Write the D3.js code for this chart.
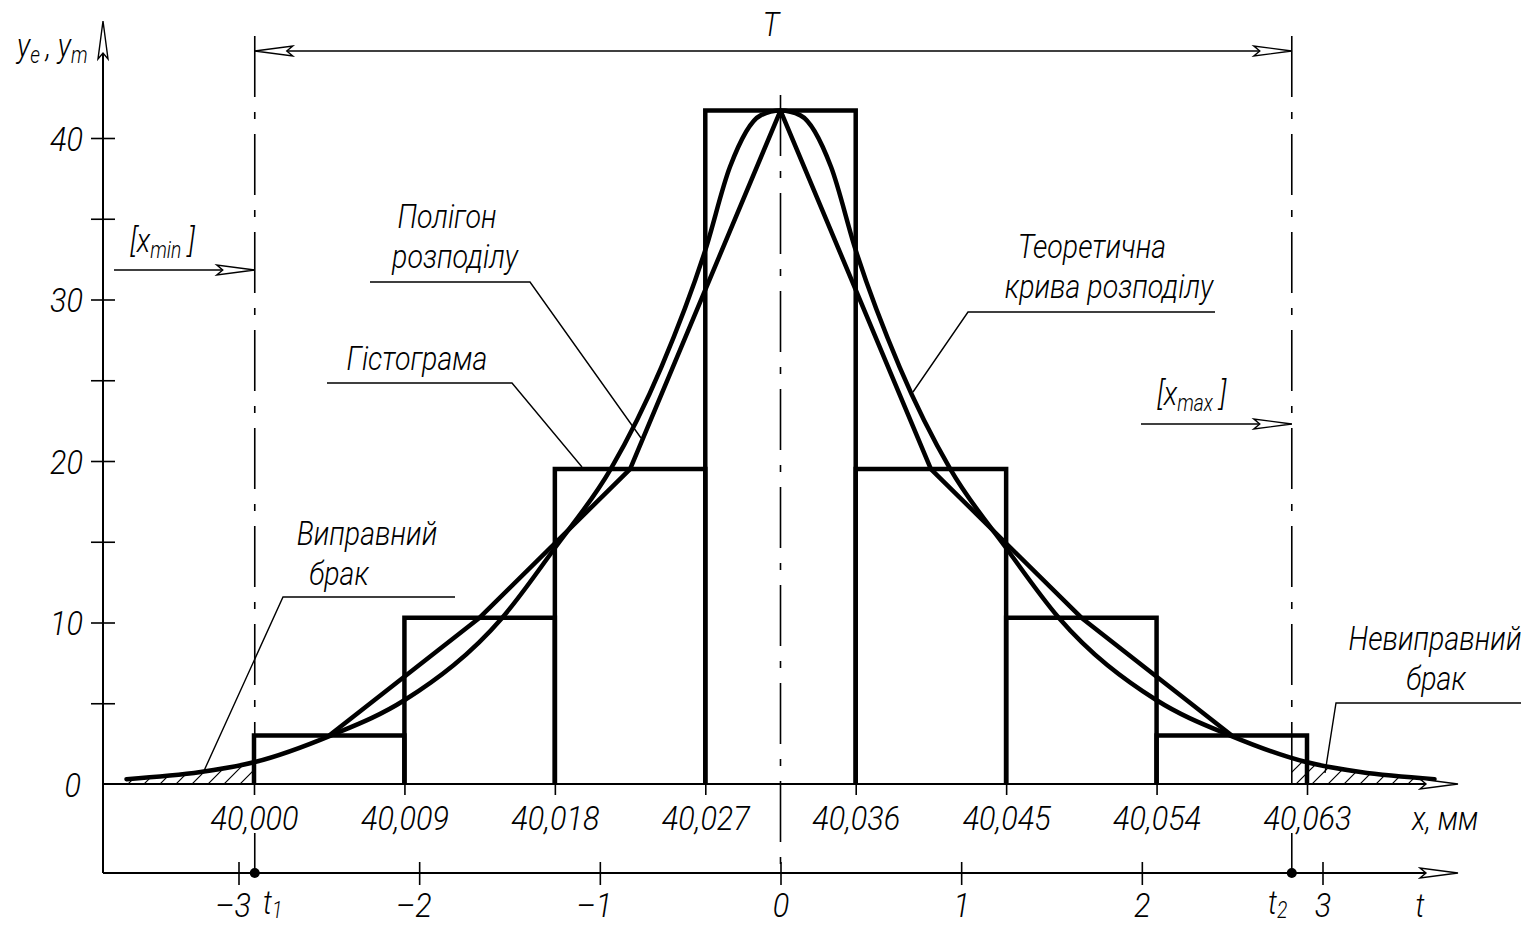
<!DOCTYPE html>
<html>
<head>
<meta charset="utf-8">
<script src="https://cdn.jsdelivr.net/npm/d3@7"></script>
<style>
    body { margin: 0; background: #fff; }
    svg { display: block; }
    text { font-family: Roboto, "Liberation Sans", sans-serif; font-style: italic; font-weight: 300; fill: #000; }
</style>
</head>
<body>
<svg id="chart" width="1521" height="926"></svg>
<script>
// histogram bins (mm) and empirical frequencies
const binEdges = [40.000, 40.009, 40.018, 40.027, 40.036, 40.045, 40.054, 40.063];
const frequencies = [3.0, 10.3, 19.5, 41.7, 19.5, 10.3, 3.0];

// theoretical curve in t units
const curveT = [-3.62, -3.21, -2.91, -2.49, -2.08, -1.54, -1.25, -0.94, -0.66, -0.415, -0.28, -0.11, 0,
    0.11, 0.28, 0.415, 0.66, 0.94, 1.25, 1.54, 2.08, 2.49, 2.91, 3.21, 3.62];
const curveY = [0.3, 0.74, 1.36, 3.0, 5.2, 10.3, 14.6, 19.5, 25.8, 33.1, 38.2, 41.4, 41.7,
    41.4, 38.2, 33.1, 25.8, 19.5, 14.6, 10.3, 5.2, 3.0, 1.36, 0.74, 0.3];

const yTicks = [0, 5, 10, 15, 20, 25, 30, 35, 40];
const yLabeled = [0, 10, 20, 30, 40];
const tTicks = [-3, -2, -1, 0, 1, 2, 3];
const tLimits = [-2.91, 2.83];

const svg = d3.select("#chart");

const xMm = d3.scaleLinear().domain([40.000, 40.063]).range([254, 1307]);
const tScale = d3.scaleLinear().domain([-3, 3]).range([238.5, 1322.5]);
const y = d3.scaleLinear().domain([0, 40]).range([784, 138]);

const axisX0 = 103;
const tAxisY = 873;
const thick = 4.5;
const thin = 1.6;
const sx = 0.84;      // narrow lettering like the drawing font
const sxTick = 0.9;
const fontSize = 34;

// hatch pattern for the reject zones
const defs = svg.append("defs");
defs.append("pattern")
    .attr("id", "hatch")
    .attr("patternUnits", "userSpaceOnUse")
    .attr("width", 16).attr("height", 16)
    .append("path")
    .attr("d", "M-4,4 L4,-4 M0,16 L16,0 M12,20 L20,12")
    .attr("stroke", "#000").attr("stroke-width", 1.2);

const curvePts = curveT.map((t, i) => [t, curveY[i]]);

const zones = [[curveT[0], tLimits[0]], [tLimits[1], curveT[curveT.length - 1]]];
zones.forEach((z, i) => {
    defs.append("clipPath").attr("id", "zone" + i)
        .append("rect")
        .attr("x", tScale(z[0])).attr("y", 0)
        .attr("width", tScale(z[1]) - tScale(z[0])).attr("height", 926);
    svg.append("path")
        .datum(curvePts)
        .attr("clip-path", `url(#zone${i})`)
        .attr("fill", "url(#hatch)")
        .attr("d", d3.area()
            .x(d => tScale(d[0]))
            .y0(y(0))
            .y1(d => y(d[1]))
            .curve(d3.curveMonotoneX));
});

// open drawing-style arrowhead
function arrowHead(x, yy, angle) {
    svg.append("path")
        .attr("d", "M0,0 L-38,-5 L-32,0 L-38,5 Z")
        .attr("transform", `translate(${x},${yy}) rotate(${angle})`)
        .attr("fill", "#fff")
        .attr("stroke", "#000")
        .attr("stroke-width", 1.4);
}

// dash-dot limit lines (broken around the mm labels) and centre line
const dashDot = "61,15,7,15";
[tScale(tLimits[0]), tScale(tLimits[1])].forEach(x => {
    svg.append("line")
        .attr("x1", x).attr("x2", x).attr("y1", 36).attr("y2", y(0))
        .attr("stroke", "#000").attr("stroke-width", thin)
        .attr("stroke-dasharray", dashDot);
    svg.append("line")
        .attr("x1", x).attr("x2", x).attr("y1", 833).attr("y2", tAxisY)
        .attr("stroke", "#000").attr("stroke-width", thin);
});
svg.append("line")
    .attr("x1", tScale(0)).attr("x2", tScale(0)).attr("y1", 95).attr("y2", tAxisY)
    .attr("stroke", "#000").attr("stroke-width", thin)
    .attr("stroke-dasharray", dashDot);

// axes lines
svg.append("line")
    .attr("x1", axisX0).attr("x2", axisX0).attr("y1", 24).attr("y2", tAxisY)
    .attr("stroke", "#000").attr("stroke-width", 2);
svg.append("line")
    .attr("x1", axisX0).attr("x2", 1455).attr("y1", y(0)).attr("y2", y(0))
    .attr("stroke", "#000").attr("stroke-width", 2);
svg.append("line")
    .attr("x1", axisX0).attr("x2", 1455).attr("y1", tAxisY).attr("y2", tAxisY)
    .attr("stroke", "#000").attr("stroke-width", 2);

// y axis ticks
const yAxis = svg.append("g")
    .attr("transform", `translate(${axisX0},0)`)
    .call(d3.axisLeft(y).tickValues(yTicks).tickSize(12)
        .tickFormat(d => yLabeled.includes(d) ? d : ""));
yAxis.select(".domain").remove();
yAxis.selectAll(".tick line").attr("x1", 12).attr("stroke-width", 1.6)
    .style("display", d => d === 0 ? "none" : null);
yAxis.selectAll(".tick text").attr("x", d => (d === 0 ? -22 : -20) / sxTick).attr("dy", "0.36em");

// x axis (mm)
const xAxis = svg.append("g")
    .attr("transform", `translate(0,${y(0)})`)
    .call(d3.axisBottom(xMm).tickValues(binEdges).tickSize(11)
        .tickFormat(d => d.toFixed(3).replace(".", ",")));
xAxis.select(".domain").remove();
xAxis.selectAll(".tick line").attr("stroke-width", 1.6);
xAxis.selectAll(".tick text").attr("y", 0).attr("dy", 46);

// t axis
const tAxis = svg.append("g")
    .attr("transform", `translate(0,${tAxisY})`)
    .call(d3.axisBottom(tScale).tickValues(tTicks).tickSize(12)
        .tickFormat(d => d < 0 ? "\u2013" + Math.abs(d) : d));
tAxis.select(".domain").remove();
tAxis.selectAll(".tick line").attr("y1", -11).attr("stroke-width", 1.6);
tAxis.selectAll(".tick text").attr("y", 0).attr("dy", 44)
    .attr("x", d => d < 0 ? -6 / sxTick : 0);

svg.selectAll(".tick text")
    .attr("fill", "#000")
    .attr("transform", `scale(${sxTick},1)`)
    .style("font-size", fontSize + "px")
    .style("font-family", null);

tLimits.forEach(t => {
    svg.append("circle").attr("cx", tScale(t)).attr("cy", tAxisY).attr("r", 5).attr("fill", "#000");
});

// histogram
svg.append("g")
    .selectAll("path")
    .data(frequencies)
    .join("path")
    .attr("d", (f, i) => `M${xMm(binEdges[i])},${y(0)} V${y(f)} H${xMm(binEdges[i + 1])} V${y(0)}`)
    .attr("fill", "none")
    .attr("stroke", "#000")
    .attr("stroke-width", thick)
    .attr("stroke-linejoin", "miter");

// polygon
const polyPts = frequencies.map((f, i) => [(binEdges[i] + binEdges[i + 1]) / 2, f]);
svg.append("path")
    .datum(polyPts)
    .attr("d", d3.line().x(d => xMm(d[0])).y(d => y(d[1])))
    .attr("fill", "none")
    .attr("stroke", "#000")
    .attr("stroke-width", thick)
    .attr("stroke-linejoin", "round");

// theoretical curve
svg.append("path")
    .datum(curvePts)
    .attr("d", d3.line().x(d => tScale(d[0])).y(d => y(d[1])).curve(d3.curveMonotoneX))
    .attr("fill", "none")
    .attr("stroke", "#000")
    .attr("stroke-width", thick)
    .attr("stroke-linecap", "round");

// arrows
arrowHead(axisX0, 21, -90);
arrowHead(1458, y(0), 0);
arrowHead(1458, tAxisY, 0);

// dimension T
const lx = tScale(tLimits[0]), rx = tScale(tLimits[1]);
svg.append("line").attr("x1", lx).attr("x2", rx).attr("y1", 51).attr("y2", 51)
    .attr("stroke", "#000").attr("stroke-width", thin);
arrowHead(lx, 51, 180);
arrowHead(rx, 51, 0);

// tolerance limit arrows
svg.append("line").attr("x1", 114).attr("x2", lx).attr("y1", 270).attr("y2", 270)
    .attr("stroke", "#000").attr("stroke-width", thin);
arrowHead(lx, 270, 0);
svg.append("line").attr("x1", 1141).attr("x2", rx).attr("y1", 424).attr("y2", 424)
    .attr("stroke", "#000").attr("stroke-width", thin);
arrowHead(rx, 424, 0);

// text helpers
function label(x, yy, parts, anchor = "start", subDy = 6) {
    const t = svg.append("g").attr("transform", `translate(${x},${yy}) scale(${sx},1)`)
        .append("text").attr("x", 0).attr("y", 0)
        .attr("text-anchor", anchor).style("font-size", fontSize + "px");
    let shifted = false;
    parts.forEach(p => {
        if (typeof p === "string") {
            t.append("tspan").attr("dy", shifted ? -subDy : 0).text(p);
            shifted = false;
        } else {
            t.append("tspan").attr("dy", subDy).style("font-size", "23px").text(p.sub);
            shifted = true;
        }
    });
    return t;
}

function leader(points) {
    svg.append("path")
        .attr("d", d3.line()(points))
        .attr("fill", "none").attr("stroke", "#000").attr("stroke-width", 1.4);
}

label(17, 57, ["y", { sub: "e" }, "\u2009,  y", { sub: "m" }]);
label(771, 36, ["T"], "middle");
label(130, 252, ["[x", { sub: "min" }, " ]"]);
label(1157, 405, ["[x", { sub: "max" }, " ]"]);
label(1412, 830, ["x,  мм"]);
label(1420, 917, ["t"], "middle");
label(263, 914, ["t", { sub: "1" }], "start", 4);
label(1268, 914, ["t", { sub: "2" }], "start", 4);

label(367, 545, ["Виправний"], "middle");
label(339, 585, ["брак"], "middle");
leader([[455, 597], [283, 597], [203, 773]]);

label(417, 370, ["Гістограма"], "middle");
leader([[327, 383], [512, 383], [582, 467]]);

label(447, 228, ["Полігон"], "middle");
label(455, 268, ["розподілу"], "middle");
leader([[370, 282], [530, 282], [641, 438]]);

label(1092, 258, ["Теоретична"], "middle");
label(1109, 298, ["крива розподілу"], "middle");
leader([[1215, 312], [968, 312], [913, 392]]);

label(1435, 650, ["Невиправний"], "middle");
label(1436, 690, ["брак"], "middle");
leader([[1521, 703], [1336, 703], [1325, 773]]);
</script>
</body>
</html>
